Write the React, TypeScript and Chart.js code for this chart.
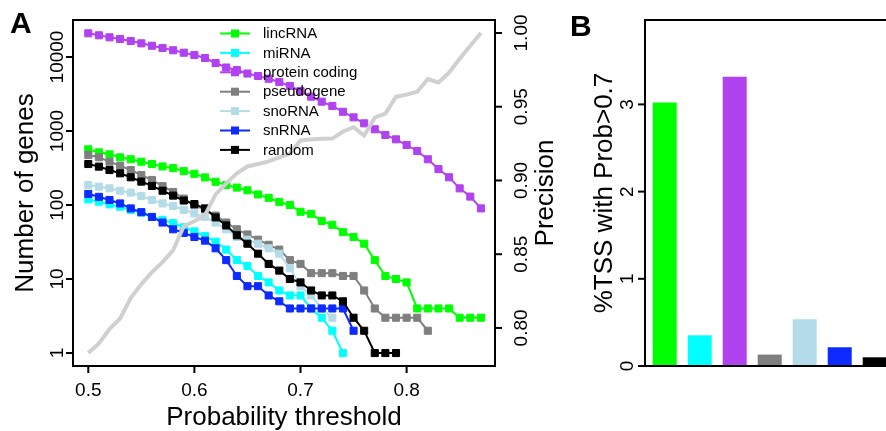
import React, { useEffect, useRef } from "react";
import { Chart, registerables } from "chart.js";

Chart.register(...registerables);

// ---------- data ----------
const thresholds = [
  0.5, 0.51, 0.52, 0.53, 0.54, 0.55, 0.56, 0.57, 0.58, 0.59,
  0.6, 0.61, 0.62, 0.63, 0.64, 0.65, 0.66, 0.67, 0.68, 0.69,
  0.7, 0.71, 0.72, 0.73, 0.74, 0.75, 0.76, 0.77, 0.78, 0.79,
  0.8, 0.81, 0.82, 0.83, 0.84, 0.85, 0.86, 0.87,
];

const lincRNA = [
  566, 515, 484, 441, 415, 385, 358, 332, 315, 287, 264, 236, 206, 186, 172, 158, 139, 125, 110,
  100, 81, 76, 61, 54, 43, 37, 30, 18, 11, 10, 9, 4, 4, 4, 4, 3, 3, 3,
];
const miRNA = [
  119, 111, 102, 95, 86, 79, 69, 63, 57, 50, 44, 38, 32, 25, 18, 15, 11, 9, 7, 6, 6, 4, 3, 2, 1,
];
const proteinCoding = [
  20900, 19640, 18450, 17500, 16450, 15300, 14200, 13240, 12330, 11430, 10640, 9690, 8290, 7210,
  6670, 5980, 5540, 5090, 4590, 4060, 3470, 2910, 2490, 2180, 1820, 1530, 1270, 1055, 884, 772,
  647, 537, 415, 306, 237, 168, 130, 90,
];
const pseudogene = [
  474, 441, 385, 340, 297, 254, 218, 180, 150, 122, 100, 86, 72, 58, 47, 40, 34, 29, 25, 18,
  16, 12, 12, 12, 11, 11, 7, 4, 3, 3, 3, 3, 2,
];
const snoRNA = [
  186, 177, 168, 156, 147, 132, 117, 105, 97, 86, 77, 69, 58, 47, 37, 34, 30, 26, 22, 14, 8, 6, 4, 3,
];
const snRNA = [
  141, 129, 117, 105, 90, 80, 69, 58, 47, 42, 37, 33, 26, 18, 11, 8, 8, 6, 5, 4, 4, 4, 4, 4, 4, 2,
];
const randomSet = [
  358, 330, 297, 268, 237, 207, 181, 156, 134, 115, 103, 90, 68, 53, 39, 30, 22, 16, 13, 10,
  9, 7, 6, 6, 5, 3, 2, 1, 1, 1,
];
const precision = [
  0.783, 0.7895, 0.7993, 0.8064, 0.8203, 0.8297, 0.8378, 0.8446, 0.8527, 0.869, 0.8723, 0.8764,
  0.8906, 0.898, 0.9048, 0.9095, 0.9112, 0.9129, 0.9156, 0.9183, 0.9271, 0.9278, 0.9282, 0.9284,
  0.9332, 0.9361, 0.9305, 0.9426, 0.9453, 0.9568, 0.9582, 0.9602, 0.9688, 0.9665, 0.9731, 0.9825,
  0.9913, 1.0,
];

const seriesNames = ["lincRNA", "miRNA", "protein coding", "pseudogene", "snoRNA", "snRNA", "random"];
const seriesColors = ["#00ff00", "#00ffff", "#b142f0", "#7f7f7f", "#b4dce8", "#0d2bff", "#000000"];
const seriesValues = [lincRNA, miRNA, proteinCoding, pseudogene, snoRNA, snRNA, randomSet];

const barValues = [3.023, 0.352, 3.317, 0.131, 0.536, 0.215, 0.1];
const barPositions = [1, 2, 3, 4, 5, 6, 7];

const xTicks = [0.5, 0.6, 0.7, 0.8];
const xTickLabels = ["0.5", "0.6", "0.7", "0.8"];
const yTicks = [1, 10, 100, 1000, 10000];
const yTickLabels = ["1", "10", "100", "1000", "10000"];
const precisionTicks = [0.8, 0.85, 0.9, 0.95, 1.0];
const precisionTickLabels = ["0.80", "0.85", "0.90", "0.95", "1.00"];
const barTicks = [0, 1, 2, 3];
const barTickLabels = ["0", "1", "2", "3"];

// ---------- helpers ----------
const FONT = '"Liberation Sans", Arial, Helvetica, sans-serif';

function vText(ctx: CanvasRenderingContext2D, text: string, x: number, y: number, size: number) {
  ctx.save();
  ctx.translate(x, y);
  ctx.rotate(-Math.PI / 2);
  ctx.font = `${size}px ${FONT}`;
  ctx.textAlign = "center";
  ctx.textBaseline = "alphabetic";
  ctx.fillStyle = "#000";
  ctx.fillText(text, 0, 0);
  ctx.restore();
}

function hText(ctx: CanvasRenderingContext2D, text: string, x: number, y: number, size: number, align: CanvasTextAlign = "center", bold = false) {
  ctx.save();
  ctx.font = `${bold ? "bold " : ""}${size}px ${FONT}`;
  ctx.textAlign = align;
  ctx.textBaseline = "alphabetic";
  ctx.fillStyle = "#000";
  ctx.fillText(text, x, y);
  ctx.restore();
}

function line(ctx: CanvasRenderingContext2D, x1: number, y1: number, x2: number, y2: number, w = 2, c = "#000") {
  ctx.save();
  ctx.strokeStyle = c;
  ctx.lineWidth = w;
  ctx.beginPath();
  ctx.moveTo(x1, y1);
  ctx.lineTo(x2, y2);
  ctx.stroke();
  ctx.restore();
}

const decorA = {
  id: "decorA",
  afterDraw(chart: any) {
    const ctx: CanvasRenderingContext2D = chart.ctx;
    const { left, right, top, bottom } = chart.chartArea;
    const xs = chart.scales.x;
    const ys = chart.scales.y;
    const ys2 = chart.scales.y2;
    // box
    ctx.save();
    ctx.strokeStyle = "#000";
    ctx.lineWidth = 2;
    ctx.strokeRect(left, top, right - left, bottom - top);
    ctx.restore();
    // x ticks
    xTicks.forEach((v, i) => {
      const px = xs.getPixelForValue(v);
      line(ctx, px, bottom, px, bottom + 7);
      hText(ctx, xTickLabels[i], px, bottom + 30, 19);
    });
    // left y ticks
    yTicks.forEach((v, i) => {
      const py = ys.getPixelForValue(v);
      line(ctx, left, py, left - 7, py);
      vText(ctx, yTickLabels[i], left - 10, py, 19);
    });
    // right y ticks
    precisionTicks.forEach((v, i) => {
      const py = ys2.getPixelForValue(v);
      line(ctx, right, py, right + 7, py);
      vText(ctx, precisionTickLabels[i], right + 32, py, 19);
    });
    const midY = (top + bottom) / 2;
    hText(ctx, "Probability threshold", (left + right) / 2, bottom + 59, 26);
    vText(ctx, "Number of genes", 33, midY, 26);
    vText(ctx, "Precision", right + 58, midY, 26);
    hText(ctx, "A", 10, 33, 30, "left", true);

    // legend
    const lx0 = 220, lx1 = 250, tx = 263, y0 = 33.5, step = 19.4;
    seriesNames.forEach((name, k) => {
      const y = y0 + k * step;
      line(ctx, lx0, y, lx1, y, 2, seriesColors[k]);
      ctx.save();
      ctx.fillStyle = seriesColors[k];
      ctx.fillRect((lx0 + lx1) / 2 - 4, y - 4, 8, 8);
      ctx.font = `15px ${FONT}`;
      ctx.fillStyle = "#000";
      ctx.textAlign = "left";
      ctx.textBaseline = "middle";
      ctx.fillText(name, tx, y + 0.5);
      ctx.restore();
    });
  },
};

const decorB = {
  id: "decorB",
  afterDraw(chart: any) {
    const ctx: CanvasRenderingContext2D = chart.ctx;
    const { left, right, top, bottom } = chart.chartArea;
    const ys = chart.scales.y;
    ctx.save();
    ctx.strokeStyle = "#000";
    ctx.lineWidth = 2;
    ctx.strokeRect(left, top, right - left, bottom - top);
    ctx.restore();
    barTicks.forEach((v, i) => {
      const py = ys.getPixelForValue(v);
      line(ctx, left, py, left - 7, py);
      vText(ctx, barTickLabels[i], left - 12, py, 19);
    });
    vText(ctx, "%TSS with Prob>0.7", left - 33, (top + bottom) / 2, 26);
    hText(ctx, "B", 10, 36, 30, "left", true);
  },
};

export default function App() {
  const refA = useRef<HTMLCanvasElement>(null);
  const refB = useRef<HTMLCanvasElement>(null);

  useEffect(() => {
    const datasets: any[] = seriesValues.map((vals, k) => ({
      label: seriesNames[k],
      data: vals.map((v, i) => ({ x: thresholds[i], y: v })),
      borderColor: seriesColors[k],
      backgroundColor: seriesColors[k],
      borderWidth: 2,
      pointStyle: "rect",
      pointRadius: 5,
      pointBorderWidth: 1,
      pointBackgroundColor: seriesColors[k],
      pointBorderColor: seriesColors[k],
      xAxisID: "x",
      yAxisID: "y",
      order: 10 - k,
      tension: 0,
    }));
    datasets.push({
      label: "precision",
      data: precision.map((v, i) => ({ x: thresholds[i], y: v })),
      borderColor: "#d0d0d0",
      backgroundColor: "#d0d0d0",
      borderWidth: 4,
      pointRadius: 0,
      xAxisID: "x",
      yAxisID: "y2",
      order: 0,
      tension: 0,
    });

    const chartA = new Chart(refA.current!, {
      type: "line",
      data: { datasets },
      options: {
        responsive: false,
        animation: false,
        devicePixelRatio: 1,
        events: [],
        layout: { padding: { left: 73, top: 20, right: 65, bottom: 65 } },
        plugins: { legend: { display: false }, tooltip: { enabled: false } },
        scales: {
          x: { type: "linear", min: 0.4856, max: 0.8833, display: false },
          y: { type: "logarithmic", min: 0.668, max: 31620, display: false },
          y2: { type: "linear", min: 0.7742, max: 1.0088, display: false },
        },
      },
      plugins: [decorA],
    } as any);

    const chartB = new Chart(refB.current!, {
      type: "bar",
      data: {
        datasets: [
          {
            data: barValues.map((v, i) => ({ x: barPositions[i], y: v })),
            backgroundColor: seriesColors,
            borderWidth: 0,
            barPercentage: 0.686,
            categoryPercentage: 1,
          },
        ],
      },
      options: {
        responsive: false,
        animation: false,
        devicePixelRatio: 1,
        events: [],
        layout: { padding: { left: 85, top: 20, right: 40, bottom: 65 } },
        plugins: { legend: { display: false }, tooltip: { enabled: false } },
        scales: {
          x: {
            type: "linear",
            min: 0.437,
            max: 8.294,
            offset: false,
            display: false,
            afterBuildTicks: (s: any) => {
              s.ticks = barPositions.map((v) => ({ value: v }));
            },
          },
          y: { type: "linear", min: 0, max: 3.968, display: false },
        },
      },
      plugins: [decorB],
    } as any);

    return () => {
      chartA.destroy();
      chartB.destroy();
    };
  }, []);

  return (
    <div
      style={{
        position: "fixed",
        left: 0,
        top: 0,
        width: 886,
        height: 431,
        overflow: "hidden",
        background: "#fff",
      }}
    >
      <canvas
        ref={refA}
        width={560}
        height={431}
        style={{ position: "absolute", left: 0, top: 0, width: 560, height: 431 }}
      />
      <canvas
        ref={refB}
        width={400}
        height={431}
        style={{ position: "absolute", left: 560, top: 0, width: 400, height: 431 }}
      />
    </div>
  );
}
